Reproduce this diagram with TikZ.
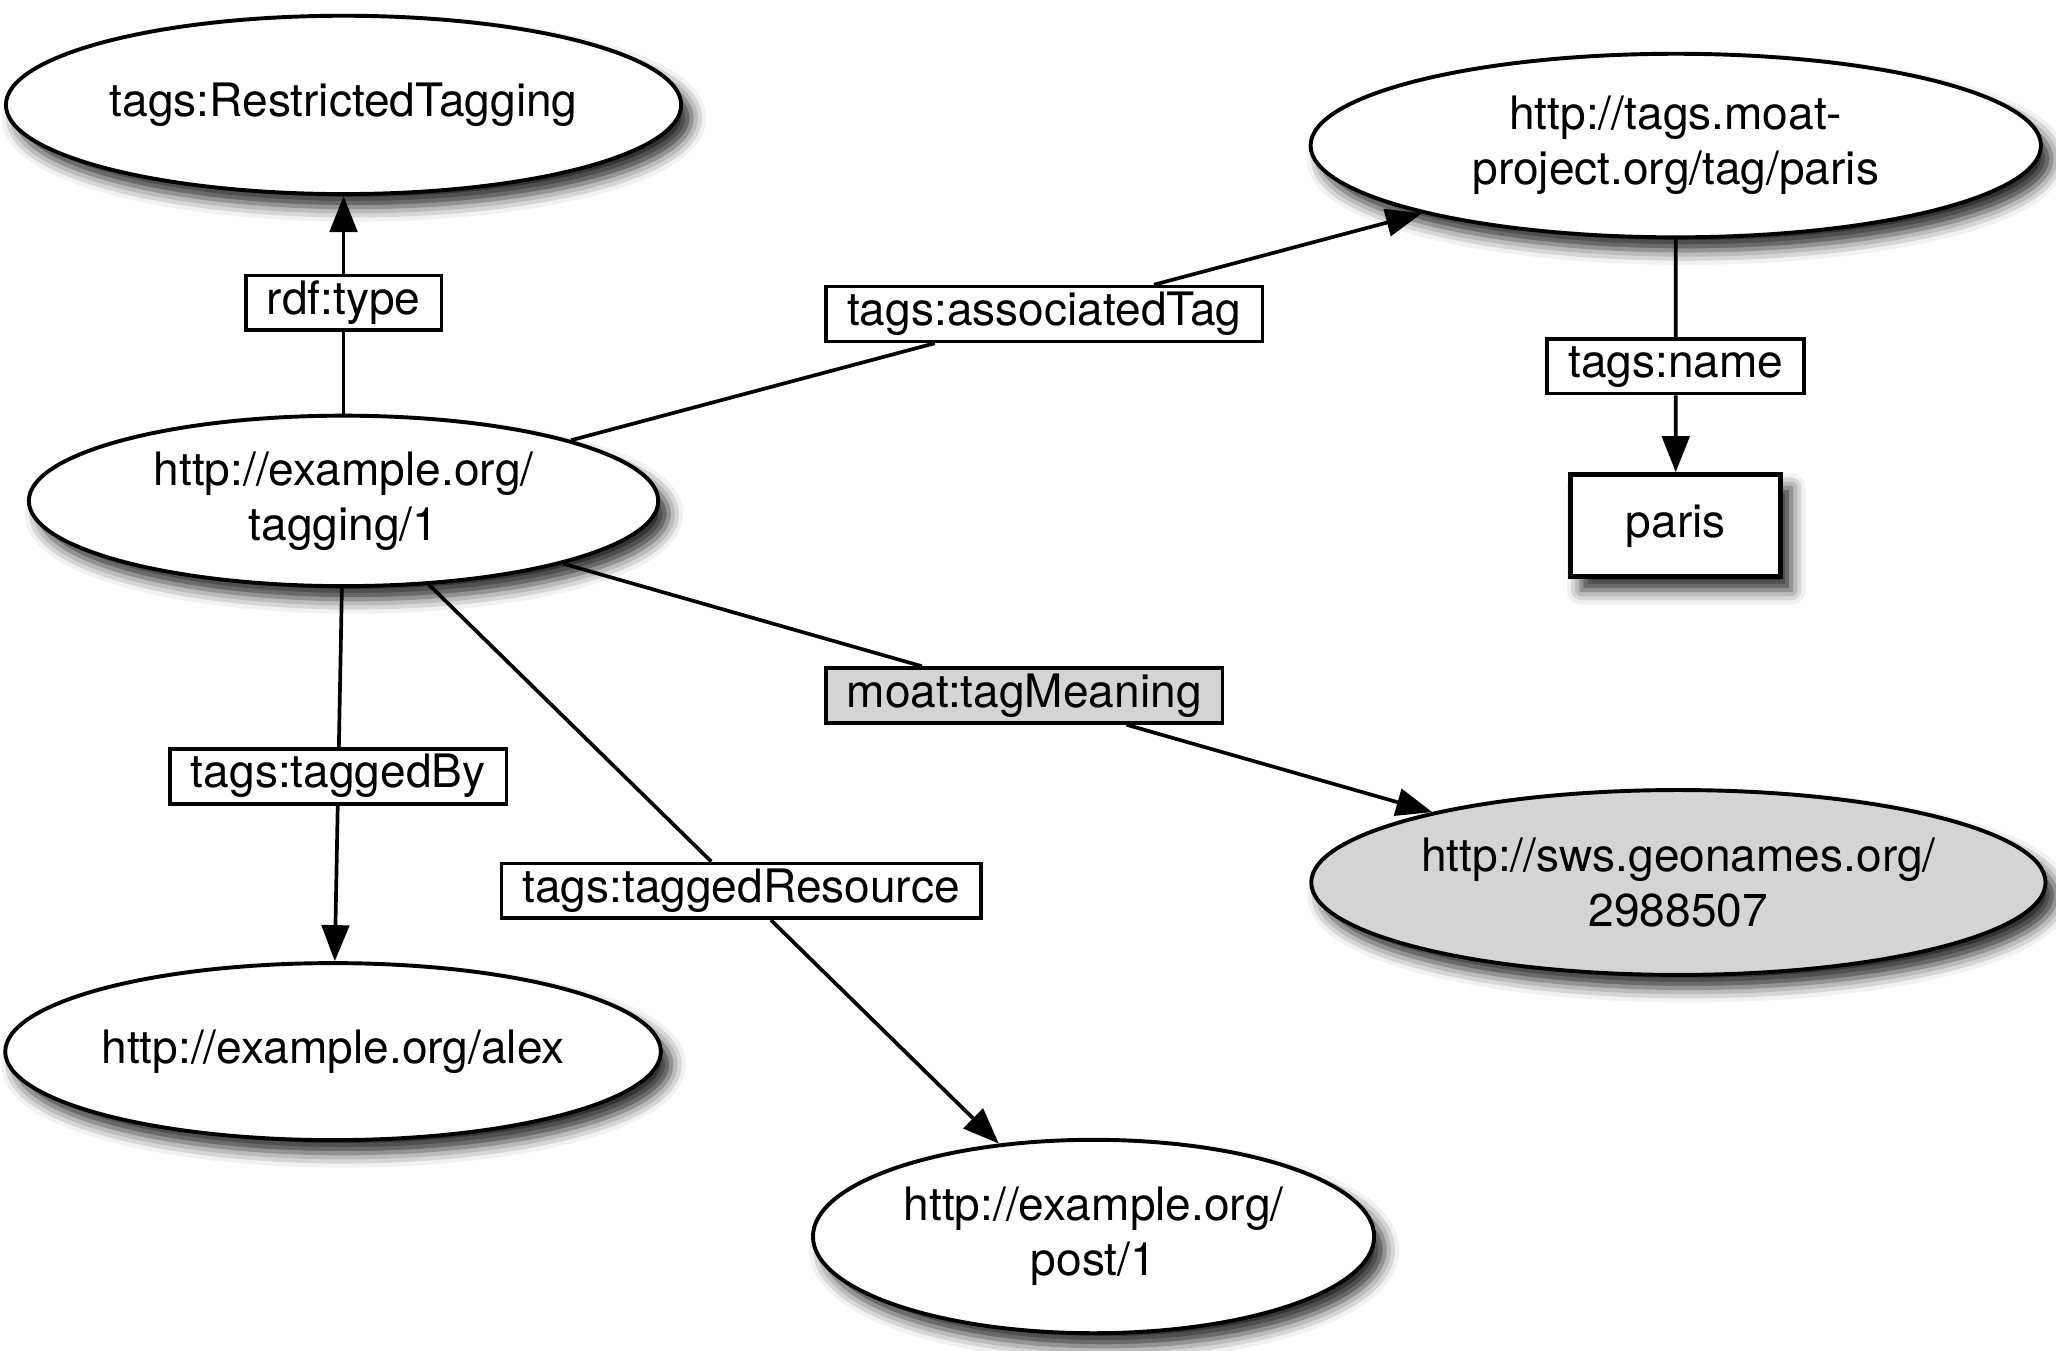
\documentclass[tikz,border=0pt]{standalone}
\usepackage{fontspec}
\setmainfont{TeX Gyre Heros}
\usetikzlibrary{shapes.geometric,arrows.meta,calc,shadows.blur}
\definecolor{grisclaro}{RGB}{212,212,212}

\begin{document}
\begin{tikzpicture}[
    font=\fontsize{20}{24}\selectfont,
    sombra/.style={blur shadow={shadow xshift=0.16cm, shadow yshift=-0.2cm, shadow blur radius=0.22cm, shadow opacity=85}},
    recurso/.style={ellipse, draw, line width=1.7pt, fill=white, align=center, inner sep=0pt, sombra},
    literal/.style={rectangle, draw, line width=2.2pt, fill=white, minimum width=3.2cm, minimum height=1.56cm, sombra},
    propiedad/.style={rectangle, draw, line width=1.6pt, fill=white, inner xsep=0.32cm, inner ysep=2.9pt, text height=14pt, text depth=4pt},
    flecha/.style={line width=1.6pt, -{Triangle[length=0.55cm, width=0.42cm]}}
]
\useasboundingbox (0,0) rectangle (31.36,-20.6);

% Recursos
\node[recurso, minimum width=10.3cm, minimum height=2.72cm] (restr) at (5.24,-1.6) {tags:RestrictedTagging};
\node[recurso, minimum width=11.14cm, minimum height=2.8cm] (tag) at (25.56,-2.22) {http://tags.moat-\\project.org/tag/paris};
\node[recurso, minimum width=9.6cm, minimum height=2.6cm] (tagging) at (5.24,-7.64) {http://example.org/\\tagging/1};
\node[literal] (paris) at (25.56,-8.02) {paris};
\node[recurso, fill=grisclaro, minimum width=11.2cm, minimum height=2.82cm] (geo) at (25.6,-13.46) {http://sws.geonames.org/\\2988507};
\node[recurso, minimum width=10cm, minimum height=2.7cm] (alex) at (5.08,-16.04) {http://example.org/alex};
\node[recurso, minimum width=8.56cm, minimum height=2.95cm] (post) at (16.68,-18.86) {http://example.org/\\post/1};

% Propiedades
\node[propiedad] (ltype) at ($(tagging)!0.5!(restr)$) {rdf:type};
\node[propiedad] (lassoc) at ($(tagging)!0.526!(tag)$) {tags:associatedTag};
\node[propiedad] (lname) at ($(tag)!0.58!(paris)$) {tags:name};
\node[propiedad, fill=grisclaro] (lmeaning) at ($(tagging)!0.51!(geo)$) {moat:tagMeaning};
\node[propiedad] (lby) at ($(tagging)!0.5!(alex)$) {tags:taggedBy};
\node[propiedad] (lres) at ($(tagging)!0.53!(post)$) {tags:taggedResource};

% Aristas
\draw[flecha] (tagging) -- (ltype) -- (restr);
\draw[flecha] (tagging) -- (lassoc) -- (tag);
\draw[flecha] (tag) -- (lname) -- (paris);
\draw[flecha] (tagging) -- (lmeaning) -- (geo);
\draw[flecha] (tagging) -- (lby) -- (alex);
\draw[flecha] (tagging) -- (lres) -- (post);

\end{tikzpicture}
\end{document}
